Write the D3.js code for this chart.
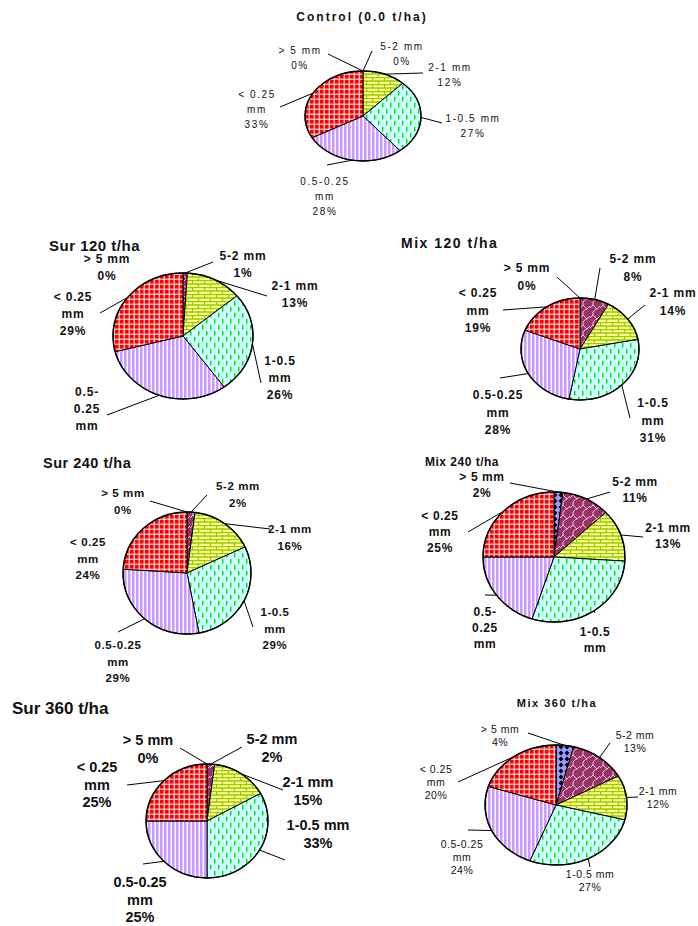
<!DOCTYPE html>
<html>
  <head>
    <title>Aggregate size fractions</title>
    <script src="https://cdn.jsdelivr.net/npm/d3@7"></script>
    <style>
      body { margin: 0; background: #fff; }
      text { font-family: Arial, "Liberation Sans", sans-serif; fill: #111; }
    </style>
  </head>
  <body>
    <svg width="698" height="926" id="mainsvg"></svg>
    <script>
        // aggregate size classes, clockwise from 12 o'clock
        const categories = ['> 5 mm', '5-2 mm', '2-1 mm', '1-0.5 mm', '0.5-0.25 mm', '< 0.25 mm'];
        const titles = ['Control (0.0 t/ha)', 'Sur 120 t/ha', 'Mix 120 t/ha', 'Sur 240 t/ha', 'Mix 240 t/ha', 'Sur 360 t/ha', 'Mix 360 t/ha'];
        // percentages per treatment
        const control = [0, 0, 12, 27, 28, 33];
        const sur120 = [0, 1, 13, 26, 31, 29];
        const mix120 = [0, 8, 14, 31, 28, 19];
        const sur240 = [0, 2, 16, 29, 29, 24];
        const mix240 = [2, 11, 13, 29, 20, 25];
        const sur360 = [0, 2, 15, 33, 25, 25];
        const mix360 = [4, 13, 12, 27, 24, 20];
        const series = [control, sur120, mix120, sur240, mix240, sur360, mix360];

        // layout only: pie centre/radii, title, label anchors & leader ends, label wrap codes
        const layout = [
          {cx: 363, cy: 116, rx: 58, ry: 45, title: {x: 362, y: 17, anchor: 'middle', size: 12, ls: 2, bold: true},
           font: 10, bold: false, ls: 1.6, lh: 15,
           wrap: ['np', 'np', 'np', 'np', 'smp', 'smp'],
           lab: [[300, 50], [402, 46], [450, 67], [473, 118], [325, 181], [257, 94]],
           lead: [[328, 54], [372, 51], [423, 73], [442, 123], [327, 165], [280, 107]]},
          {cx: 183, cy: 336, rx: 70, ry: 63, title: {x: 49, y: 245, anchor: 'start', size: 15, ls: 0.5, bold: true},
           font: 12, bold: true, ls: 0.8, lh: 17,
           wrap: ['np', 'np', 'np', 'smp', 'hsm', 'smp'],
           lab: [[107, 259], [243, 256], [295, 286], [280, 361], [87, 392], [73, 297]],
           lead: [null, [213, 262], [267, 296], [261, 383], [107, 415], [100, 313]]},
          {cx: 580, cy: 349, rx: 59, ry: 51, title: {x: 401, y: 243, anchor: 'start', size: 14, ls: 1.5, bold: true},
           font: 12, bold: true, ls: 0.8, lh: 17.5,
           wrap: ['np', 'np', 'np', 'smp', 'smp', 'smp'],
           lab: [[527, 268], [633, 259], [673, 293], [653, 403], [498, 395], [478, 293]],
           lead: [[557, 277], [600, 268], [645, 305], [630, 418], [500, 378], [503, 310]]},
          {cx: 187, cy: 573, rx: 64, ry: 61, title: {x: 43, y: 463, anchor: 'start', size: 14.5, ls: 0.5, bold: true},
           font: 11.5, bold: true, ls: 0.6, lh: 16.5,
           wrap: ['np', 'np', 'np', 'smp', 'smp', 'smp'],
           lab: [[123, 493], [238, 486], [290, 529], [275, 612], [118, 645], [88, 542]],
           lead: [[150, 501], [207, 495], [270, 529], [253, 627], [118, 632], null]},
          {cx: 554, cy: 557, rx: 71, ry: 65, title: {x: 425, y: 462, anchor: 'start', size: 12, ls: 0.5, bold: true},
           font: 12, bold: true, ls: 0.6, lh: 16,
           wrap: ['np', 'np', 'np', 'sm', 'hsm', 'smp'],
           lab: [[482, 477], [635, 482], [668, 528], [595, 632], [485, 612], [440, 516]],
           lead: [[510, 483], [610, 492], [643, 537], [595, 613], [485, 595], [468, 532]]},
          {cx: 207, cy: 821, rx: 61, ry: 57, title: {x: 12, y: 708, anchor: 'start', size: 17, ls: 0, bold: true},
           font: 14.5, bold: true, ls: 0, lh: 17.5,
           wrap: ['np', 'np', 'np', 'np', 'smp', 'smp'],
           lab: [[148, 740], [272, 739], [308, 782], [318, 825], [140, 882], [97, 767]],
           lead: [[180, 748], [242, 747], [283, 790], [285, 860], [143, 864], [127, 785]]},
          {cx: 556, cy: 805, rx: 71, ry: 60, title: {x: 557, y: 703, anchor: 'middle', size: 11, ls: 1.5, bold: true},
           font: 10.5, bold: false, ls: 0.5, lh: 13,
           wrap: ['np', 'np', 'np', 'np', 'smp', 'smp'],
           lab: [[500, 729], [635, 735], [658, 791], [590, 874], [462, 844], [436, 769]],
           lead: [[528, 733], [610, 743], [638, 797], [590, 867], [468, 830], [458, 782]]}
        ];

        const svg = d3.select('#mainsvg');
        const defs = svg.append('defs');

        // fill patterns, one per size class
        const p0 = defs.append('pattern').attr('id', 'pat0').attr('patternUnits', 'userSpaceOnUse').attr('width', 6).attr('height', 6);
        p0.append('rect').attr('width', 6).attr('height', 6).attr('fill', '#9999ff');
        p0.append('polygon').attr('points', '3,0.6 5.4,3 3,5.4 0.6,3').attr('fill', '#000');

        const p1 = defs.append('pattern').attr('id', 'pat1').attr('patternUnits', 'userSpaceOnUse').attr('width', 10).attr('height', 10);
        p1.append('rect').attr('width', 10).attr('height', 10).attr('fill', '#993366');
        p1.append('path').attr('d', 'M0,8 L3,5 L3,2 L5,0 M3,5 L7,9 M7,9 L10,6 M5,10 L7,9')
          .attr('stroke', '#f4c6dc').attr('stroke-width', 1).attr('fill', 'none');

        const p2 = defs.append('pattern').attr('id', 'pat2').attr('patternUnits', 'userSpaceOnUse').attr('width', 12).attr('height', 7);
        p2.append('rect').attr('width', 12).attr('height', 7).attr('fill', '#ffff99');
        p2.append('path').attr('d', 'M0,0.5 H12 M0,4 H12 M0.5,0.5 V4 M6.5,4 V7')
          .attr('stroke', '#99cc00').attr('stroke-width', 1.3).attr('fill', 'none');

        const p3 = defs.append('pattern').attr('id', 'pat3').attr('patternUnits', 'userSpaceOnUse').attr('width', 8).attr('height', 12);
        p3.append('rect').attr('width', 8).attr('height', 12).attr('fill', '#ccffff');
        p3.append('rect').attr('x', 2).attr('y', 1).attr('width', 1.4).attr('height', 4.5).attr('fill', '#00dd00');
        p3.append('rect').attr('x', 6).attr('y', 7).attr('width', 1.4).attr('height', 4.5).attr('fill', '#00dd00');

        const p4 = defs.append('pattern').attr('id', 'pat4').attr('patternUnits', 'userSpaceOnUse').attr('width', 4).attr('height', 4);
        p4.append('rect').attr('width', 4).attr('height', 4).attr('fill', '#cc99ff');
        p4.append('rect').attr('x', 2.6).attr('width', 1.4).attr('height', 4).attr('fill', '#fff');

        const p5 = defs.append('pattern').attr('id', 'pat5').attr('patternUnits', 'userSpaceOnUse').attr('width', 5).attr('height', 5);
        p5.append('rect').attr('width', 5).attr('height', 5).attr('fill', '#ff0000');
        p5.append('path').attr('d', 'M4.2,0 V5 M0,4.2 H5').attr('stroke', '#fff').attr('stroke-width', 1).attr('fill', 'none');

        const fillFor = d3.scaleOrdinal().domain(categories).range(categories.map((c, i) => `url(#pat${i})`));

        const pie = d3.pie().sort(null).value(d => d.value);

        function labelLines(name, pct, code) {
          const short = name.replace(' mm', '');
          if (code === 'np') return [name, pct];
          if (code === 'smp') return [short, 'mm', pct];
          if (code === 'sm') return [short, 'mm'];
          if (code === 'hsm') { const k = short.indexOf('-') + 1; return [short.slice(0, k), short.slice(k), 'mm']; }
          return [name];
        }

        series.forEach((values, ci) => {
          const L = layout[ci];
          const data = categories.map((c, i) => ({name: c, value: values[i]}));
          const arcs = pie(data);
          const g = svg.append('g');

          // title
          g.append('text')
            .attr('x', L.title.x).attr('y', L.title.y)
            .attr('text-anchor', L.title.anchor)
            .attr('dominant-baseline', 'central')
            .style('font-size', L.title.size + 'px')
            .style('font-weight', 'bold')
            .style('letter-spacing', L.title.ls + 'px')
            .text(titles[ci]);

          // elliptical slices from the pie angles
          const edge = a => [L.cx + L.rx * Math.sin(a), L.cy - L.ry * Math.cos(a)];
          const slicePath = d => {
            const s = edge(d.startAngle), e = edge(d.endAngle);
            const large = d.endAngle - d.startAngle > Math.PI ? 1 : 0;
            return `M${L.cx},${L.cy}L${s[0]},${s[1]}A${L.rx},${L.ry} 0 ${large} 1 ${e[0]},${e[1]}Z`;
          };
          g.append('g').selectAll('path').data(arcs.filter(d => d.data.value > 0)).join('path')
            .attr('d', slicePath)
            .attr('fill', d => fillFor(d.data.name))
            .attr('stroke', '#000')
            .attr('stroke-width', 1);
          g.append('ellipse').attr('cx', L.cx).attr('cy', L.cy).attr('rx', L.rx).attr('ry', L.ry)
            .attr('fill', 'none').attr('stroke', '#000').attr('stroke-width', 1.4);

          // leader lines to the slice edge at mid angle
          arcs.forEach((d, i) => {
            if (!L.lead[i]) return;
            const e = edge((d.startAngle + d.endAngle) / 2);
            g.append('path')
              .attr('d', d3.line()([L.lead[i], e]))
              .attr('stroke', '#000').attr('stroke-width', 1).attr('fill', 'none');
          });

          // labels
          arcs.forEach((d, i) => {
            const lines = labelLines(d.data.name, d.data.value + '%', L.wrap[i]);
            const t = g.append('text')
              .attr('text-anchor', 'middle')
              .attr('dominant-baseline', 'central')
              .style('font-size', L.font + 'px')
              .style('font-weight', L.bold ? 'bold' : 'normal')
              .style('letter-spacing', L.ls + 'px');
            lines.forEach((s, k) => {
              t.append('tspan').attr('x', L.lab[i][0]).attr('y', L.lab[i][1] + k * L.lh).text(s);
            });
          });
        });
    </script>
  </body>
</html>
